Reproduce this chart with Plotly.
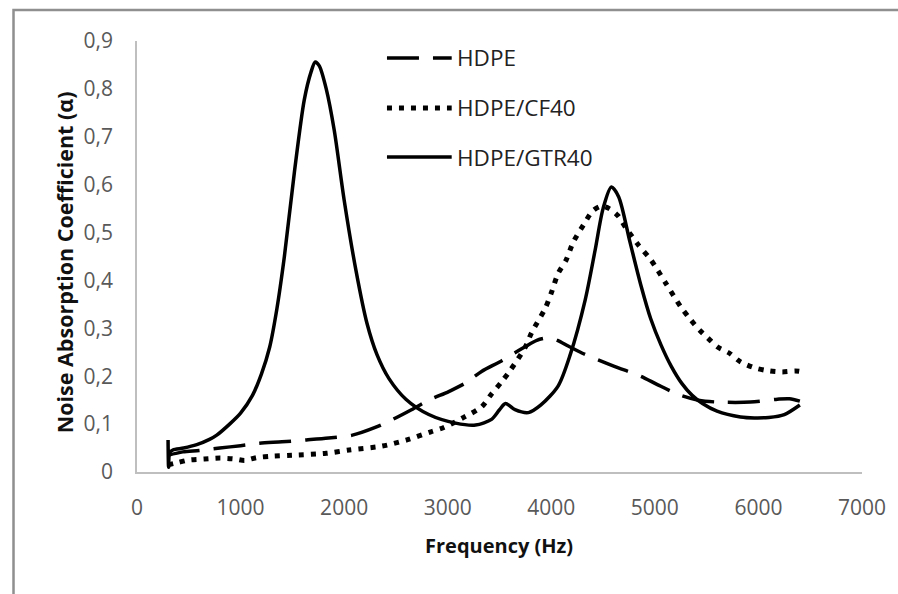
import plotly.graph_objects as go

# ---- data ----
freq_hdpe = [300, 442, 600, 800, 1000, 1183, 1400, 1635, 1850, 2080, 2300, 2462, 2650, 2817,
             3010, 3173, 3327, 3519, 3750, 3860, 3971, 4060, 4163, 4300, 4452, 4615, 4865,
             5029, 5250, 5420, 5606, 5923, 6183, 6300, 6400]
alpha_hdpe = [0.035, 0.042, 0.045, 0.05, 0.055, 0.06, 0.063, 0.067, 0.071, 0.077, 0.093, 0.109,
              0.13, 0.15, 0.168, 0.186, 0.21, 0.232, 0.262, 0.275, 0.28, 0.275, 0.263, 0.248,
              0.234, 0.22, 0.2, 0.182, 0.16, 0.15, 0.146, 0.146, 0.152, 0.153, 0.148]

freq_cf40 = [300, 400, 500, 650, 800, 950, 1040, 1154, 1300, 1500, 1827, 2048, 2365, 2606,
             2837, 2962, 3154, 3327, 3423, 3519, 3606, 3750, 3808, 3942, 4000, 4067, 4144,
             4212, 4308, 4400, 4480, 4560, 4644, 4720, 4837, 4962, 5106, 5250, 5346, 5433,
             5510, 5606, 5721, 5827, 5971, 6106, 6230, 6356, 6400]
alpha_cf40 = [0.015, 0.02, 0.025, 0.027, 0.029, 0.027, 0.024, 0.03, 0.033, 0.035, 0.039, 0.046,
              0.054, 0.067, 0.084, 0.093, 0.114, 0.136, 0.163, 0.188, 0.213, 0.261, 0.29,
              0.342, 0.374, 0.415, 0.443, 0.48, 0.515, 0.545, 0.555, 0.55, 0.535, 0.51, 0.475,
              0.443, 0.394, 0.345, 0.318, 0.296, 0.28, 0.261, 0.248, 0.23, 0.217, 0.211,
              0.209, 0.211, 0.21]

freq_gtr40 = [300, 305, 315, 346, 450, 577, 700, 770, 894, 1000, 1115, 1202, 1280, 1350, 1423,
              1519, 1615, 1680, 1721, 1760, 1827, 1904, 2000, 2115, 2221, 2317, 2433, 2596,
              2817, 3077, 3269, 3423, 3500, 3558, 3650, 3779, 3900, 4067, 4183, 4327, 4423,
              4500, 4580, 4650, 4760, 4865, 4960, 5060, 5160, 5260, 5360, 5460, 5600, 5827,
              5960, 6100, 6250, 6400]
alpha_gtr40 = [0.067, 0.01, 0.04, 0.046, 0.05, 0.057, 0.068, 0.077, 0.1, 0.123, 0.16, 0.205,
               0.26, 0.34, 0.45, 0.625, 0.777, 0.835, 0.856, 0.848, 0.8, 0.714, 0.568, 0.42,
               0.31, 0.245, 0.195, 0.152, 0.12, 0.102, 0.098, 0.11, 0.13, 0.143, 0.13, 0.124,
               0.14, 0.18, 0.245, 0.359, 0.463, 0.55, 0.595, 0.575, 0.48, 0.39, 0.32, 0.265,
               0.22, 0.185, 0.16, 0.143, 0.127, 0.115, 0.113, 0.114, 0.12, 0.14]

series_names = ["HDPE", "HDPE/CF40", "HDPE/GTR40"]
y_tick_vals = [0, 0.1, 0.2, 0.3, 0.4, 0.5, 0.6, 0.7, 0.8, 0.9]
y_tick_text = ["0", "0,1", "0,2", "0,3", "0,4", "0,5", "0,6", "0,7", "0,8", "0,9"]
x_tick_vals = [0, 1000, 2000, 3000, 4000, 5000, 6000, 7000]

# ---- styles ----
W, H = 898, 594
L, R, T, B = 137, 33, 41, 122
pw, ph = W - L - R, H - T - B
FONT = "Open Sans"
dash_hdpe = "32px,14px"
dash_cf = "5px,7px"

def px_x(x):
    return (x - L) / pw

def px_y(y):
    return (H - B - y) / ph

fig = go.Figure()
fig.add_trace(go.Scatter(x=freq_hdpe, y=alpha_hdpe, mode="lines", name=series_names[0],
                         line=dict(color="black", width=3.5, dash=dash_hdpe, shape="spline", smoothing=0.8)))
fig.add_trace(go.Scatter(x=freq_cf40, y=alpha_cf40, mode="lines", name=series_names[1],
                         line=dict(color="black", width=5, dash=dash_cf, shape="spline", smoothing=0.8)))
fig.add_trace(go.Scatter(x=freq_gtr40, y=alpha_gtr40, mode="lines", name=series_names[2],
                         line=dict(color="black", width=3.5, shape="spline", smoothing=0.8)))

shapes = []
# outer chart frame (cropped at right and bottom)
shapes.append(dict(type="rect", xref="paper", yref="paper",
                   x0=px_x(13), x1=px_x(905), y0=px_y(610), y1=px_y(10),
                   line=dict(color="#8f8f8f", width=2.5), layer="below"))

# custom legend
leg_y = [58, 108, 157]
leg_dash = [dash_hdpe, dash_cf, "solid"]
leg_w = [3.5, 5, 3.5]
annotations = []
for i, nm in enumerate(series_names):
    shapes.append(dict(type="line", xref="paper", yref="paper",
                       x0=px_x(388), x1=px_x(453), y0=px_y(leg_y[i]), y1=px_y(leg_y[i]),
                       line=dict(color="black", width=leg_w[i], dash=leg_dash[i])))
    annotations.append(dict(xref="paper", yref="paper", x=px_x(456), y=px_y(leg_y[i]),
                            xanchor="left", yanchor="middle", showarrow=False, text=nm,
                            font=dict(family=FONT, size=22.5, color="#222222")))

annotations.append(dict(xref="paper", yref="paper", x=px_x(500), y=px_y(545),
                        xanchor="center", yanchor="middle", showarrow=False,
                        text="<b>Frequency (Hz)</b>",
                        font=dict(family=FONT, size=20, color="#111111")))
annotations.append(dict(xref="paper", yref="paper", x=px_x(64), y=px_y(262),
                        xanchor="center", yanchor="middle", showarrow=False, textangle=-90,
                        text="<b>Noise Absorption Coefficient (α)</b>",
                        font=dict(family=FONT, size=21.5, color="#111111")))

fig.update_layout(
    width=W, height=H,
    margin=dict(l=L, r=R, t=T, b=B, pad=0),
    paper_bgcolor="white", plot_bgcolor="white",
    showlegend=False,
    shapes=shapes, annotations=annotations,
    font=dict(family=FONT, size=21, color="#595959"),
)
fig.update_xaxes(range=[0, 7000], tickvals=x_tick_vals, showgrid=False, zeroline=False,
                 showline=True, linecolor="#BFBFBF", linewidth=1.5, ticks="",
                 ticklabelstandoff=16, tickfont=dict(family=FONT, size=21, color="#595959"))
fig.update_yaxes(range=[0, 0.9], tickvals=y_tick_vals, ticktext=y_tick_text, showgrid=False,
                 zeroline=False, showline=True, linecolor="#BFBFBF", linewidth=1.5, ticks="",
                 ticklabelstandoff=18, tickfont=dict(family=FONT, size=21, color="#595959"))

fig.write_html("out.html")
